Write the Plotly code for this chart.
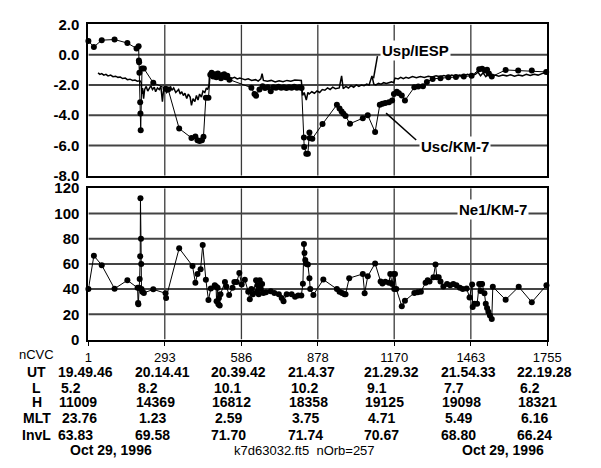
import plotly.graph_objects as go

# ---------------- data ----------------
ncvc_ticks = [1, 293, 586, 878, 1170, 1463, 1755]
ut_vals = ["19.49.46", "20.14.41", "20.39.42", "21.4.37", "21.29.32", "21.54.33", "22.19.28"]
l_vals = ["5.2", "8.2", "10.1", "10.2", "9.1", "7.7", "6.2"]
h_vals = ["11009", "14369", "16812", "18358", "19125", "19098", "18321"]
mlt_vals = ["23.76", "1.23", "2.59", "3.75", "4.71", "5.49", "6.16"]
invl_vals = ["63.83", "69.58", "71.70", "71.74", "70.67", "68.80", "66.24"]
row_names = ["UT", "L", "H", "MLT", "InvL"]
date_labels = ["Oct 29, 1996", "Oct 29, 1996"]
file_label = "k7d63032.ft5  nOrb=257"
series_names = ["Usp/IESP", "Usc/KM-7", "Ne1/KM-7"]
top_ticks = [2, 0, -2, -4, -6, -8]
bottom_ticks = [0, 20, 40, 60, 80, 100, 120]

usp_x = [38, 45, 52, 60, 68, 76, 86, 95, 105, 114,
         123, 132, 142, 150, 160, 170, 179, 188, 198, 203,
         205, 208, 212, 216, 222, 228, 235, 240, 246, 253,
         258, 265, 272, 278, 284, 288, 294, 300, 309, 315,
         320, 327, 335, 346, 352, 358, 364, 370, 377, 383,
         390, 395, 401, 408, 414, 420, 426, 433, 439, 446,
         452, 457, 462, 464, 470, 476, 482, 488, 494, 500,
         506, 513, 520, 525, 531, 540, 550, 560, 570, 580,
         590, 600, 612, 625, 640, 650, 660, 665, 670, 685,
         700, 715, 730, 745, 760, 775, 790, 805, 815, 820,
         826, 834, 840, 845, 855, 865, 875, 885, 895, 905,
         915, 925, 935, 945, 960, 969, 975, 985, 995, 1005,
         1015, 1025, 1035, 1045, 1055, 1065, 1074, 1085, 1092, 1100,
         1110, 1120, 1130, 1140, 1150, 1160, 1168, 1173, 1185, 1195,
         1205, 1215, 1225, 1240, 1255, 1270, 1285, 1300, 1315, 1330,
         1345, 1360, 1375, 1390, 1405, 1420, 1435, 1450, 1465, 1480,
         1490, 1500, 1510, 1520, 1530, 1540, 1555, 1570, 1585, 1600,
         1615, 1630, 1645, 1660, 1675, 1690, 1705, 1720, 1735, 1745,
         1752]
usp_y = [-1.20, -1.30, -1.25, -1.35, -1.30, -1.40, -1.35, -1.45, -1.42, -1.50,
         -1.48, -1.58, -1.55, -1.65, -1.62, -1.70, -1.68, -1.75, -1.72, -1.85,
         -2.60, -2.20, -2.90, -2.30, -2.10, -2.40, -2.20, -2.05, -2.30, -2.15,
         -2.45, -2.20, -2.30, -2.10, -3.10, -2.40, -2.25, -2.50, -2.30, -2.10,
         -2.35, -2.20, -2.50, -2.30, -2.60, -2.45, -2.70, -2.55, -2.90, -2.60,
         -2.80, -3.35, -2.90, -3.10, -2.70, -3.00, -2.60, -2.80, -2.40, -2.50,
         -2.20, -2.30, -2.00, -1.30, -1.40, -1.20, -1.45, -1.25, -1.50, -1.30,
         -1.55, -1.35, -1.60, -1.45, -1.55, -1.50, -1.55, -1.50, -1.60, -1.55,
         -1.60, -1.65, -1.60, -1.70, -1.65, -1.75, -1.60, -1.25, -1.70, -1.75,
         -1.70, -1.80, -1.72, -1.78, -1.70, -1.75, -1.68, -1.72, -1.70, -2.70,
         -2.50, -3.00, -2.50, -2.60, -2.45, -2.55, -2.40, -2.50, -2.30, -2.35,
         -2.20, -2.30, -2.15, -2.25, -2.20, -1.40, -2.25, -2.10, -2.20, -2.05,
         -2.15, -2.00, -2.10, -2.00, -2.05, -1.95, -2.00, -1.40, -1.95, -2.00,
         -1.90, -1.95, -1.85, -1.90, -1.85, -1.80, -1.85, -1.55, -1.60, -1.50,
         -1.58, -1.50, -1.55, -1.45, -1.52, -1.45, -1.50, -1.42, -1.48, -1.40,
         -1.45, -1.38, -1.45, -1.35, -1.42, -1.35, -1.40, -1.30, -1.38, -1.30,
         -1.15, -1.40, -1.20, -1.45, -1.30, -1.45, -1.35, -1.42, -1.35, -1.40,
         -1.33, -1.42, -1.35, -1.40, -1.30, -1.38, -1.30, -1.35, -1.25, -1.20,
         -1.10]

usc_x = [1, 22, 52, 101, 150, 185, 193, 194, 195, 196,
         199, 200, 201, 206, 213, 249, 296, 306, 348, 395,
         410, 418, 426, 435, 441, 450, 460, 467, 472, 478,
         484, 490, 496, 502, 508, 514, 520, 526, 532, 540,
         624, 636, 642, 655, 667, 676, 687, 698, 708, 718,
         728, 738, 748, 758, 768, 778, 788, 798, 808, 816,
         825, 826, 834, 840, 846, 847, 857, 896, 951, 961,
         969, 976, 984, 1001, 1050, 1069, 1097, 1115, 1125, 1136,
         1150, 1162, 1169, 1180, 1188, 1199, 1211, 1247, 1262, 1280,
         1295, 1317, 1347, 1377, 1406, 1436, 1466, 1495, 1506, 1517,
         1525, 1532, 1543, 1596, 1644, 1696, 1751]
usc_y = [0.90, 0.51, 0.96, 1.00, 0.77, 0.41, 0.55, -0.38, -0.50, -1.20,
         -3.14, -3.88, -5.00, -0.91, -0.91, -1.86, -2.25, -2.30, -4.88, -5.50,
         -5.40, -5.65, -5.70, -5.65, -5.43, -2.85, -2.85, -1.33, -1.20, -1.45,
         -1.30, -1.50, -1.25, -1.40, -1.55, -1.35, -1.30, -1.50, -1.40, -1.65,
         -2.18, -2.60, -2.71, -2.30, -2.08, -2.20, -2.15, -2.41, -2.15, -2.18,
         -2.12, -2.18, -2.15, -2.20, -2.15, -2.18, -2.12, -2.18, -2.15, -2.20,
         -5.47, -6.10, -6.54, -6.54, -5.15, -5.50, -5.55, -4.58, -3.31, -3.55,
         -3.75, -3.90, -4.05, -4.56, -4.20, -4.00, -5.11, -3.31, -3.25, -3.20,
         -3.15, -3.03, -2.60, -2.45, -2.55, -2.70, -3.03, -2.15, -2.10, -2.08,
         -1.80, -1.60, -1.55, -1.50, -1.48, -1.45, -1.40, -0.97, -0.93, -1.05,
         -1.00, -1.25, -1.45, -1.01, -1.05, -1.05, -1.14]

ne_x = [1, 22, 52, 101, 150, 189, 191, 192, 195, 197,
        199, 200, 202, 203, 204, 207, 213, 249, 296, 298,
        348, 399, 410, 418, 430, 438, 450, 460, 469, 484,
        489, 491, 495, 498, 500, 503, 506, 523, 528, 539,
        552, 559, 568, 578, 587, 599, 612, 618, 624, 630,
        642, 645, 648, 652, 656, 660, 665, 670, 680, 698,
        712, 729, 740, 747, 759, 778, 791, 803, 815, 821,
        825, 827, 830, 835, 840, 846, 849, 861, 899, 951,
        961, 971, 980, 984, 998, 1050, 1057, 1069, 1097, 1118,
        1125, 1136, 1150, 1155, 1162, 1168, 1170, 1173, 1178, 1199,
        1211, 1247, 1260, 1272, 1290, 1298, 1305, 1320, 1328, 1333,
        1340, 1347, 1358, 1372, 1384, 1396, 1408, 1421, 1432, 1447,
        1458, 1468, 1470, 1477, 1487, 1495, 1500, 1503, 1506, 1515,
        1520, 1525, 1530, 1536, 1543, 1547, 1596, 1646, 1696, 1752]
ne_y = [40, 66.5, 59, 40.3, 47, 41, 29, 28, 41, 48,
        66, 112, 80, 60, 40, 38, 37, 39.8, 36.7, 33,
        72.4, 58.4, 45, 52, 55.8, 75, 47.4, 31.3, 40.5, 43,
        42, 30.3, 41, 28, 33, 27, 36, 45.6, 42, 35.4,
        41, 45.6, 45.6, 52.7, 43.6, 47.4, 38, 32, 40, 36,
        47, 38, 43, 36, 47, 40, 44, 37, 37.5, 38.3,
        37, 36, 33, 30.3, 36, 36, 34, 35, 35, 44.3,
        75.7, 68.6, 63, 60, 59.6, 48.7, 40, 35.4, 47.6, 40,
        38, 37, 36, 36, 48.7, 52, 36.7, 50.2, 60.4, 46,
        44.5, 45.8, 45, 52, 44, 52, 40, 52, 40, 26.5,
        30.8, 37, 37.5, 38, 45, 47, 46, 49.5, 59.6, 49.5,
        49.5, 46, 42, 44, 43, 44, 43, 41, 40, 40.5,
        33.4, 43.6, 25.8, 28.3, 28.3, 44, 38.5, 44, 44, 36.7,
        28.3, 25, 22, 19, 16.3, 41.8, 31.6, 41.8, 29.6, 43]

# ---------------- layout helpers ----------------
W, H = 601, 468
FONT = "Liberation Sans, Arial, Helvetica, sans-serif"
GRID_V = "#3a3a3a"
GRID_H = "#444444"


def px_x(p):
    return p / W


def px_y(p):
    return 1 - p / H


x_dom = [px_x(87), px_x(560)]

fig = go.Figure()

# grid lines as line traces built from the tick arrays (drawn first, under the data)
for xa, ya, yt in (("x", "y", top_ticks), ("x2", "y2", bottom_ticks)):
    vx, vy, hx, hy = [], [], [], []
    for tv in ncvc_ticks[1:-1]:
        vx += [tv, tv, None]
        vy += [min(yt), max(yt), None]
    for tv in yt:
        if tv in (min(yt), max(yt)):
            continue
        hx += [ncvc_ticks[0], ncvc_ticks[-1], None]
        hy += [tv, tv, None]
    fig.add_trace(go.Scatter(x=vx, y=vy, mode="lines", xaxis=xa, yaxis=ya,
                             line=dict(color=GRID_V, width=1.3), hoverinfo="skip",
                             showlegend=False))
    fig.add_trace(go.Scatter(x=hx, y=hy, mode="lines", xaxis=xa, yaxis=ya,
                             line=dict(color=GRID_H, width=2), hoverinfo="skip",
                             showlegend=False))

fig.add_trace(go.Scatter(x=usp_x, y=usp_y, mode="lines", name=series_names[0],
                         line=dict(color="black", width=1.5),
                         xaxis="x", yaxis="y", cliponaxis=False))
fig.add_trace(go.Scatter(x=usc_x, y=usc_y, mode="lines+markers", name=series_names[1],
                         line=dict(color="black", width=1),
                         marker=dict(color="black", size=6),
                         xaxis="x", yaxis="y", cliponaxis=False))
fig.add_trace(go.Scatter(x=ne_x, y=ne_y, mode="lines+markers", name=series_names[2],
                         line=dict(color="black", width=1),
                         marker=dict(color="black", size=6),
                         xaxis="x2", yaxis="y2", cliponaxis=False))

axis_common = dict(showline=True, mirror=True, linecolor="black", linewidth=2,
                   showgrid=False, zeroline=False)

fig.update_layout(
    width=W, height=H,
    margin=dict(l=0, r=0, t=0, b=0, pad=0),
    paper_bgcolor="white", plot_bgcolor="white",
    showlegend=False,
    font=dict(family=FONT, color="black"),
    xaxis=dict(domain=x_dom, range=[1, 1755], anchor="y",
               tickmode="array", tickvals=ncvc_ticks, showticklabels=False, ticks="",
               **axis_common),
    yaxis=dict(domain=[px_y(173), px_y(16)], range=[-8, 2], anchor="x",
               tickmode="array", tickvals=top_ticks,
               ticktext=[f"{v:.1f}" for v in top_ticks],
               ticks="", ticklabelstandoff=4,
               tickfont=dict(family=FONT, size=15, weight="bold", color="black"),
               **axis_common),
    xaxis2=dict(domain=x_dom, range=[1, 1755], anchor="y2",
                tickmode="array", tickvals=ncvc_ticks, ticktext=[str(v) for v in ncvc_ticks],
                ticks="outside", ticklen=4, tickcolor="black", ticklabelstandoff=1,
                tickfont=dict(family=FONT, size=13, color="black"),
                **axis_common),
    yaxis2=dict(domain=[px_y(343), px_y(186)], range=[0, 120], anchor="x2",
                tickmode="array", tickvals=bottom_ticks,
                ticktext=[str(v) for v in bottom_ticks],
                ticks="", ticklabelstandoff=4,
                tickfont=dict(family=FONT, size=15, weight="bold", color="black"),
                **axis_common),
)

bold15 = dict(family=FONT, size=15, color="black", weight="bold")
bold14 = dict(family=FONT, size=14, color="black", weight="bold")
norm13 = dict(family=FONT, size=13, color="black")

fig.add_annotation(x=1251, y=0.28, xref="x", yref="y", text=series_names[0],
                   showarrow=False, font=bold15, bgcolor="white", borderpad=1)
fig.add_annotation(x=1403, y=-6.09, xref="x", yref="y", text=series_names[1],
                   showarrow=False, font=bold15, bgcolor="white", borderpad=1)
fig.add_annotation(x=1547, y=103, xref="x2", yref="y2", text=series_names[2],
                   showarrow=False, font=bold15, bgcolor="white", borderpad=1)
fig.add_shape(type="line", xref="x", yref="y", x0=1106, y0=-0.10, x1=1091, y1=-1.57,
              line=dict(color="black", width=1.5))
fig.add_shape(type="line", xref="x", yref="y", x0=1139, y0=-3.86, x1=1254, y1=-5.64,
              line=dict(color="black", width=1.5))

fig.add_annotation(x=px_x(34), y=px_y(359), xref="paper", yref="paper", text="nCVC",
                   showarrow=False, font=norm13, xanchor="center", yanchor="middle")

rows = [ut_vals, l_vals, h_vals, mlt_vals, invl_vals]
row_y = [377, 393, 408, 424, 442]
row_shift = [-31, -28, -30, -27, -31]
for name, vals, yy, sh in zip(row_names, rows, row_y, row_shift):
    fig.add_annotation(x=px_x(34), y=px_y(yy), xref="paper", yref="paper", text=name,
                       showarrow=False, font=bold14, xanchor="center", yanchor="middle",
                       borderpad=0)
    for tv, v in zip(ncvc_ticks, vals):
        fig.add_annotation(x=tv, y=px_y(yy), xref="x2", yref="paper", text=v,
                           showarrow=False, font=bold14, xanchor="left",
                           yanchor="middle", xshift=sh, borderpad=0)

fig.add_annotation(x=px_x(110), y=px_y(458), xref="paper", yref="paper", text=date_labels[0],
                   showarrow=False, font=bold14, xanchor="center", yanchor="middle", borderpad=0)
fig.add_annotation(x=px_x(514), y=px_y(458), xref="paper", yref="paper", text=date_labels[1],
                   showarrow=False, font=bold14, xanchor="center", yanchor="middle", borderpad=0)
fig.add_annotation(x=px_x(310), y=px_y(458), xref="paper", yref="paper",
                   text=file_label.replace("  ", "&nbsp;&nbsp;"),
                   showarrow=False, font=norm13, xanchor="center", yanchor="middle", borderpad=0)

fig.write_html("out.html")
